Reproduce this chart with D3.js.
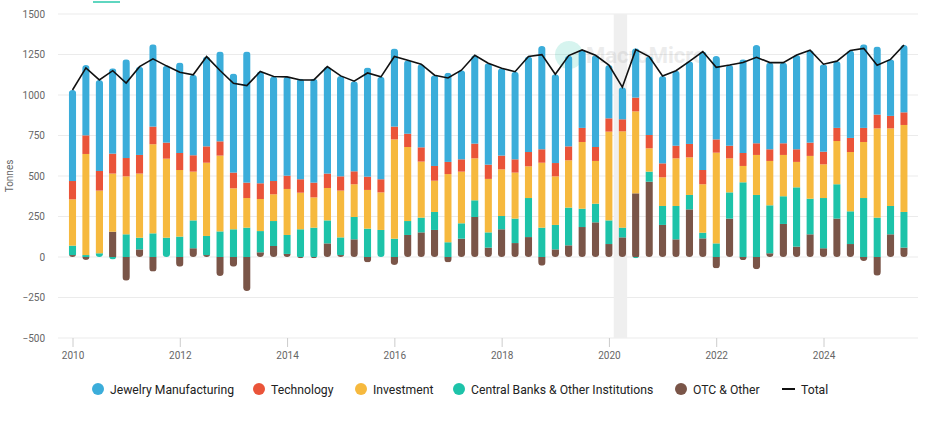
<!DOCTYPE html>
<html>
<head>
<meta charset="utf-8">
<script src="https://cdn.jsdelivr.net/npm/d3@7"></script>
<style>
body { margin: 0; background: #fff; }
text { font-family: Roboto, "Noto Sans", sans-serif; }
</style>
</head>
<body>
<script>
// quarterly gold demand, tonnes (2010Q1 .. 2025Q3)
var startYear = 2010;
var quarters = [];
for (var i = 0; i < 63; i++) quarters.push(startYear + Math.floor(i / 4) + "Q" + (i % 4 + 1));

var jewelry = [562,434,562,527,609,545,508,474,558,497,554,554,611,809,690,645,
	610,621,642,660,620,556,673,632,482,454,513,560,551,550,545,626,
	539,541,590,638,548,560,481,566,329,198,304,484,539,463,510,731,
	515,498,578,607,535,498,582,570,540,412,540,516,420,349,416];
var technology = [113,115,121,123,113,115,109,99,105,101,101,88,97,95,97,82,
	82,83,91,89,88,80,82,81,79,82,88,91,75,76,91,88,
	85,82,88,83,82,86,87,86,82,74,85,82,86,78,83,88,
	82,78,80,72,72,72,78,82,78,81,87,87,85,77,78];
var investment = [286,624,387,359,358,396,550,488,411,301,452,468,253,183,198,165,
	284,226,187,200,289,202,239,232,613,457,346,193,421,319,259,330,
	288,284,196,401,300,292,412,264,548,595,506,144,177,294,232,299,
	560,210,101,247,274,255,157,264,208,267,366,346,551,479,537];
var centralBanks = [58,12,23,-15,140,72,146,119,126,172,118,158,171,181,131,154,
	117,171,181,142,109,138,175,167,113,86,91,111,91,95,103,94,
	82,151,241,181,151,233,113,115,146,60,-8,62,117,206,89,35,
	84,162,461,383,296,171,366,220,310,212,202,364,243,175,220];
var otcOther = [12,-18,0,156,-146,47,-90,0,-60,54,12,-117,-60,-210,29,68,
	19,-8,-8,84,12,109,-33,0,-49,136,152,167,-33,113,247,58,
	171,86,123,-54,47,72,185,214,80,121,393,465,198,109,294,115,
	-70,237,-19,-76,23,204,64,140,54,237,80,-25,-115,140,58];

var yTicks = [-500,-250,0,250,500,750,1000,1250,1500];
var xTicks = [2010,2012,2014,2016,2018,2020,2022,2024];

var series = [
	{key: "otc", name: "OTC & Other", color: "#7a5548", values: otcOther},
	{key: "cb", name: "Central Banks & Other Institutions", color: "#1dc3a9", values: centralBanks},
	{key: "inv", name: "Investment", color: "#f6b93e", values: investment},
	{key: "tech", name: "Technology", color: "#ea5439", values: technology},
	{key: "jew", name: "Jewelry Manufacturing", color: "#3badda", values: jewelry}
];

var rows = quarters.map(function (q, i) {
	var r = {q: q, t: startYear + i / 4};
	series.forEach(function (s) { r[s.key] = s.values[i]; });
	r.total = series.reduce(function (a, s) { return a + s.values[i]; }, 0);
	return r;
});

var W = 941, H = 421;
var margin = {top: 14, right: 23, bottom: 83, left: 58};

var svg = d3.select("body").append("svg")
	.attr("width", W)
	.attr("height", H);

var x = d3.scaleLinear().domain([2010, 2024]).range([72.5, 823.5]);
var y = d3.scaleLinear().domain([-500, 1500]).range([H - margin.bottom, margin.top]);

// tab underline cut at the top
svg.append("rect").attr("x", 93).attr("y", 1).attr("width", 27).attr("height", 2).attr("fill", "#5fd6c0");

// grid
svg.append("g").selectAll("line")
	.data(yTicks)
	.enter().append("line")
	.attr("x1", margin.left).attr("x2", W - margin.right)
	.attr("y1", function (d) { return y(d); }).attr("y2", function (d) { return y(d); })
	.attr("stroke", "#ebebeb").attr("stroke-width", 1);

// covid highlight band
svg.append("rect")
	.attr("x", x(2020.09)).attr("width", x(2020.34) - x(2020.09))
	.attr("y", y(1500)).attr("height", y(-500) - y(1500))
	.attr("fill", "#efefef");

// y axis
var yAxis = svg.append("g")
	.attr("transform", "translate(" + margin.left + ",0)")
	.call(d3.axisLeft(y).tickValues(yTicks).tickFormat(d3.format("d")).tickSize(0).tickPadding(13));
yAxis.select(".domain").remove();
yAxis.selectAll("text").attr("fill", "#666").style("font-size", "10px");

svg.append("text")
	.attr("transform", "translate(13," + y(500) + ") rotate(-90)")
	.attr("text-anchor", "middle")
	.attr("fill", "#666").style("font-size", "10px")
	.text("Tonnes");

// x axis
var xAxis = svg.append("g")
	.attr("transform", "translate(0," + y(-500) + ")")
	.call(d3.axisBottom(x).tickValues(xTicks).tickFormat(d3.format("d")).tickSize(9).tickPadding(5));
xAxis.select(".domain").remove();
xAxis.selectAll("line").attr("stroke", "#ccc");
xAxis.selectAll("text").attr("fill", "#666").style("font-size", "10px");

// watermark
svg.append("circle").attr("cx", 569).attr("cy", 55).attr("r", 14).attr("fill", "#1dc3a9").attr("opacity", 0.18);
svg.append("text").attr("x", 586).attr("y", 63).attr("fill", "#999").attr("opacity", 0.18)
	.style("font-size", "22px").style("font-weight", "bold").text("MacroMicro");

// stacked bars
var stack = d3.stack()
	.keys(series.map(function (s) { return s.key; }))
	.offset(d3.stackOffsetDiverging);
var stacked = stack(rows);

var bw = 7.4;
var defs = svg.append("defs");
rows.forEach(function (r, i) {
	var lo = d3.min(stacked, function (l) { return l[i][0]; });
	var hi = d3.max(stacked, function (l) { return l[i][1]; });
	defs.append("clipPath").attr("id", "clip" + i)
		.append("rect")
		.attr("x", x(r.t) - bw / 2).attr("width", bw)
		.attr("y", y(hi)).attr("height", y(lo) - y(hi))
		.attr("rx", bw / 2);
});

svg.append("g").selectAll("g")
	.data(stacked)
	.enter().append("g")
	.attr("fill", function (d, i) { return series[i].color; })
	.selectAll("rect")
	.data(function (d) { return d; })
	.enter().append("rect")
	.attr("clip-path", function (d, i) { return "url(#clip" + i + ")"; })
	.attr("x", function (d) { return x(d.data.t) - bw / 2; })
	.attr("width", bw)
	.attr("y", function (d) { return y(Math.max(d[0], d[1])); })
	.attr("height", function (d) { return Math.abs(y(d[0]) - y(d[1])); });

// total line
svg.append("path")
	.datum(rows)
	.attr("fill", "none")
	.attr("stroke", "#111")
	.attr("stroke-width", 1.6)
	.attr("d", d3.line()
		.x(function (d) { return x(d.t); })
		.y(function (d) { return y(d.total); }));

// legend
var legendItems = [
	{name: "Jewelry Manufacturing", color: "#3badda", x: 98},
	{name: "Technology", color: "#ea5439", x: 259},
	{name: "Investment", color: "#f6b93e", x: 361},
	{name: "Central Banks & Other Institutions", color: "#1dc3a9", x: 459},
	{name: "OTC & Other", color: "#7a5548", x: 681}
];
var lg = svg.append("g").attr("transform", "translate(0,389)");
legendItems.forEach(function (it) {
	lg.append("circle").attr("cx", it.x).attr("cy", 0).attr("r", 6).attr("fill", it.color);
	lg.append("text").attr("x", it.x + 12).attr("y", 4.5)
		.attr("fill", "#222").style("font-size", "12.2px").text(it.name);
});
lg.append("line").attr("x1", 782).attr("x2", 795).attr("y1", 0).attr("y2", 0)
	.attr("stroke", "#111").attr("stroke-width", 2);
lg.append("text").attr("x", 801).attr("y", 4.5).attr("fill", "#222").style("font-size", "12.2px").text("Total");
</script>
</body>
</html>
